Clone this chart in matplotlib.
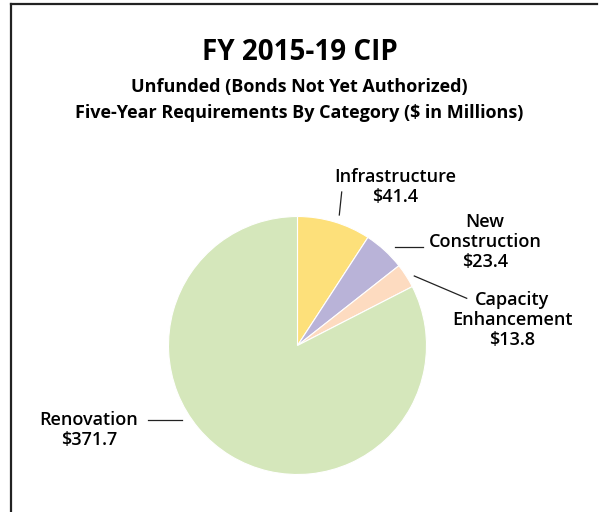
import matplotlib
matplotlib.use("Agg")
import matplotlib.pyplot as plt
from matplotlib.lines import Line2D

categories = ["Infrastructure", "New\nConstruction", "Capacity\nEnhancement", "Renovation"]
values = [41.4, 23.4, 13.8, 371.7]
colors = ["#FDE07A", "#B9B3D8", "#FDDBC0", "#D5E7BB"]

W, H = 599, 512
fig = plt.figure(figsize=(W / 100, H / 100), dpi=100)
ax = fig.add_axes([0, 0, 1, 1])

def py(y):
    return H - y

ax.pie(values, colors=colors, startangle=90, counterclock=False,
       center=(297.5, py(345.5)), radius=129,
       wedgeprops=dict(edgecolor="white", linewidth=0.8))
ax.set_xlim(0, W)
ax.set_ylim(0, H)
ax.set_aspect("equal")
ax.axis("off")

font = "Open Sans"
fig.text(0.5, 1 - 53 / H, "FY 2015-19 CIP", ha="center", va="center",
         fontsize=20, fontweight="bold", family=font)
fig.text(0.5, 1 - 87 / H, "Unfunded (Bonds Not Yet Authorized)", ha="center", va="center",
         fontsize=13, fontweight="bold", family=font)
fig.text(0.5, 1 - 113 / H, "Five-Year Requirements By Category ($ in Millions)", ha="center", va="center",
         fontsize=13, fontweight="bold", family=font)

lab_fs = 13
label_pos = [(395, 187), (485, 242), (512, 320), (89, 430)]
for cat, val, (x, y) in zip(categories, values, label_pos):
    ax.text(x, py(y), f"{cat}\n${val:.1f}", ha="center", va="center",
            fontsize=lab_fs, family=font, fontweight="semibold", linespacing=1.15)

leaders = [((339.3, 215), (341.7, 192)),
           ((395, 246.7), (422.7, 246.7)),
           ((414.3, 276), (466.7, 298.3)),
           ((148, 420), (182, 420))]
for (x0, y0), (x1, y1) in leaders:
    ax.plot([x0, x1], [py(y0), py(y1)], color="#222222", lw=0.9)

fig.add_artist(Line2D([11 / W, 11 / W], [0, 1 - 4 / H], color="#222222", lw=1.6))
fig.add_artist(Line2D([11 / W, 597 / W], [1 - 4 / H, 1 - 4 / H], color="#222222", lw=1.6))

fig.savefig("out.png", dpi=100)
